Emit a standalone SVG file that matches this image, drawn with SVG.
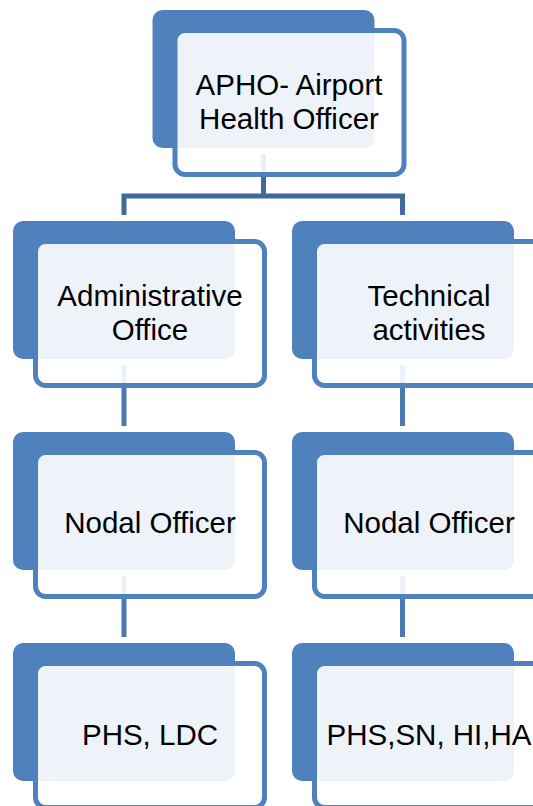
<svg xmlns="http://www.w3.org/2000/svg" width="533" height="806" viewBox="0 0 533 806">
<style>
.back{fill:#4F81BD;}
.front{fill:#FFFFFF;fill-opacity:0.9;stroke:#4F81BD;stroke-width:5;}
.t{font-family:"Liberation Sans",Arial,sans-serif;font-size:29.5px;fill:#000;text-anchor:middle;}
.c1{fill:none;stroke:#3F6A9A;stroke-width:5;}
.c2{fill:none;stroke:#4A79B2;stroke-width:5;}
</style>
<rect width="533" height="806" fill="#FFFFFF"/>
<g id="connectors">
<path class="c1" d="M263.5,154 V196 M124,215 V196 H402.5 V215"/>
<path class="c2" d="M124,365 V426 M124,576 V637 M402.5,365 V426 M402.5,576 V637"/>
</g>
<g id="n-apho">
<rect class="back" x="152.5" y="10" width="222" height="138" rx="10"/>
<rect class="front" x="175" y="30.5" width="229" height="144" rx="10"/>
<text class="t" x="289" y="95">APHO- Airport</text>
<text class="t" x="289" y="129">Health Officer</text>
</g>
<g id="n-admin">
<rect class="back" x="13" y="221" width="222" height="138" rx="10"/>
<rect class="front" x="35.5" y="241.5" width="229" height="144" rx="10"/>
<text class="t" x="150" y="306">Administrative</text>
<text class="t" x="150" y="340">Office</text>
</g>
<g id="n-tech">
<rect class="back" x="292" y="221" width="222" height="138" rx="10"/>
<rect class="front" x="314.5" y="241.5" width="229" height="144" rx="10"/>
<text class="t" x="429" y="306">Technical</text>
<text class="t" x="429" y="340">activities</text>
</g>
<g id="n-nodal-left">
<rect class="back" x="13" y="432" width="222" height="138" rx="10"/>
<rect class="front" x="35.5" y="452.5" width="229" height="144" rx="10"/>
<text class="t" x="150" y="533">Nodal Officer</text>
</g>
<g id="n-nodal-right">
<rect class="back" x="292" y="432" width="222" height="138" rx="10"/>
<rect class="front" x="314.5" y="452.5" width="229" height="144" rx="10"/>
<text class="t" x="429" y="533">Nodal Officer</text>
</g>
<g id="n-phs-ldc">
<rect class="back" x="13" y="643" width="222" height="138" rx="10"/>
<rect class="front" x="35.5" y="663.5" width="229" height="144" rx="10"/>
<text class="t" x="150" y="745">PHS, LDC</text>
</g>
<g id="n-phs-sn">
<rect class="back" x="292" y="643" width="222" height="138" rx="10"/>
<rect class="front" x="314.5" y="663.5" width="229" height="144" rx="10"/>
<text class="t" x="429" y="745">PHS,SN, HI,HA</text>
</g>
</svg>
